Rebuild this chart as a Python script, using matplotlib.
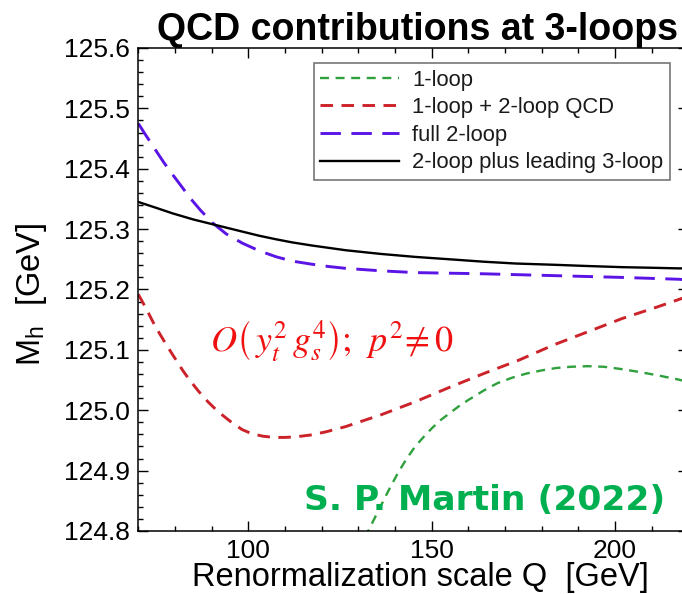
import matplotlib
matplotlib.use("Agg")
import matplotlib.pyplot as plt
from matplotlib import font_manager
from matplotlib.ticker import MultipleLocator, FormatStrFormatter

# Higgs mass vs renormalization scale
q_1loop = [128, 132.7, 136, 138.5, 140.8, 143, 145.5, 148, 150.2, 152.5, 154.9,
           157.5, 160, 164.3, 168, 172, 176, 180, 184, 188, 192.6, 197, 202, 207,
           211.5, 217.2, 220]
m_1loop = [124.743, 124.800, 124.840, 124.870, 124.896, 124.918, 124.940, 124.957,
           124.971, 124.984, 124.995, 125.007, 125.017, 125.033, 125.045, 125.054,
           125.061, 125.066, 125.070, 125.072, 125.073, 125.072, 125.068, 125.063,
           125.058, 125.051, 125.047]

q_qcd = [70, 72, 74.2, 76, 78, 80, 82, 84, 86.5, 89, 91.7, 95, 98.3, 101, 104, 107,
         110, 113, 117, 121, 126.6, 131, 136, 145.5, 154.9, 164.3, 173.8, 183.2,
         192.6, 202, 211.5, 217.2, 220]
m_qcd = [125.192, 125.170, 125.144, 125.125, 125.105, 125.086, 125.067, 125.050,
         125.031, 125.014, 124.998, 124.982, 124.968, 124.961, 124.957, 124.955,
         124.955, 124.956, 124.959, 124.964, 124.973, 124.982, 124.992, 125.014,
         125.038, 125.061, 125.083, 125.108, 125.130, 125.152, 125.171, 125.183,
         125.189]

q_2loop = [70, 72, 74.7, 77, 79.4, 82, 84.2, 87, 90.3, 94, 98.3, 103, 107.7, 112,
           117.2, 122, 126.6, 136, 145.5, 164.3, 183.2, 202, 217.2, 220]
m_2loop = [125.475, 125.456, 125.431, 125.410, 125.390, 125.369, 125.351, 125.331,
           125.310, 125.292, 125.277, 125.264, 125.254, 125.247, 125.242, 125.238,
           125.235, 125.231, 125.228, 125.226, 125.223, 125.220, 125.217, 125.216]

q_3loop = [70, 75, 79.4, 85, 90.3, 98.3, 103, 107.7, 112, 117.2, 126.6, 136, 145.5,
           155, 164.3, 173, 183.2, 192, 202, 210, 217.2, 220]
m_3loop = [125.345, 125.335, 125.326, 125.316, 125.308, 125.296, 125.289, 125.283,
           125.278, 125.273, 125.265, 125.259, 125.254, 125.250, 125.246, 125.243,
           125.241, 125.239, 125.237, 125.236, 125.235, 125.235]

labels = ["1-loop", "1-loop + 2-loop QCD", "full 2-loop", "2-loop plus leading 3-loop"]

plt.rcParams["font.family"] = ["Liberation Sans", "DejaVu Sans"]
plt.rcParams["mathtext.fontset"] = "stix"

fig = plt.figure(figsize=(6.82, 5.94), dpi=100)
ax = fig.add_axes([138.3 / 682, 63 / 594, 550 / 682, 483 / 594])

ax.plot(q_1loop, m_1loop, color="#2ea03c", lw=1.7, ls=(0, (3.8, 2.8)), label=labels[0])
ax.plot(q_qcd, m_qcd, color="#cc2229", lw=2.1, ls=(0, (4.3, 2.9)), label=labels[1])
ax.plot(q_2loop, m_2loop, color="#5a14e6", lw=2.1, ls=(0, (7.0, 3.6)), label=labels[2])
ax.plot(q_3loop, m_3loop, color="black", lw=1.7, label=labels[3])

ax.set_xlim(70, 220)
ax.set_ylim(124.8, 125.6)
ax.xaxis.set_major_locator(MultipleLocator(50))
ax.xaxis.set_minor_locator(MultipleLocator(10))
ax.yaxis.set_major_locator(MultipleLocator(0.1))
ax.yaxis.set_minor_locator(MultipleLocator(0.02))
ax.yaxis.set_major_formatter(FormatStrFormatter("%.1f"))
ax.tick_params(which="both", direction="in", top=True, right=True, width=1.0,
               colors="black")
ax.tick_params(which="major", length=7, labelsize=19, pad=6)
ax.tick_params(which="minor", length=3.6)
for s in ax.spines.values():
    s.set_linewidth(1.1)

ax.set_xlabel("Renormalization scale Q  [GeV]", fontsize=23.5)
ax.xaxis.set_label_coords(0.513, -0.097)
ax.xaxis.label.set_va("center")
ax.set_ylabel(r"M$_\mathregular{h}$  [GeV]", fontsize=23.5)
ax.yaxis.set_label_coords(-0.195, 0.49)
ax.yaxis.label.set_va("center")

leg = ax.legend(loc="upper right", bbox_to_anchor=(0.9667, 0.969), borderaxespad=0,
                fontsize=15.8, handlelength=3.6, handletextpad=0.6, labelspacing=0.3,
                fancybox=False, frameon=True, borderpad=0.3)
leg.get_frame().set_edgecolor("#555555")
leg.get_frame().set_linewidth(1.2)
for t in leg.get_texts():
    t.set_color("#1a1a1a")

ax.text(89.6, 125.115, r"$O\left(\,y_t^2\,g_s^4\right);\;\, p^2\!\neq 0$",
        color="#f01010", fontsize=26, ha="left", va="center")

ax.text(213.6, 124.835, "S. P. Martin (2022)", color="#00b050", fontsize=24.8,
        fontweight="bold", family="DejaVu Sans", ha="right", va="baseline")

names = {f.name for f in font_manager.fontManager.ttflist}
if "Liberation Sans Narrow" in names:
    title_family, title_size = "Liberation Sans Narrow", 31
else:
    title_family, title_size = "Liberation Sans", 27
fig.text(678 / 682, (594 - 40) / 594, "QCD contributions at 3-loops",
         family=title_family, fontsize=title_size, fontweight="bold",
         ha="right", va="baseline")

fig.savefig("out.png", dpi=100)
